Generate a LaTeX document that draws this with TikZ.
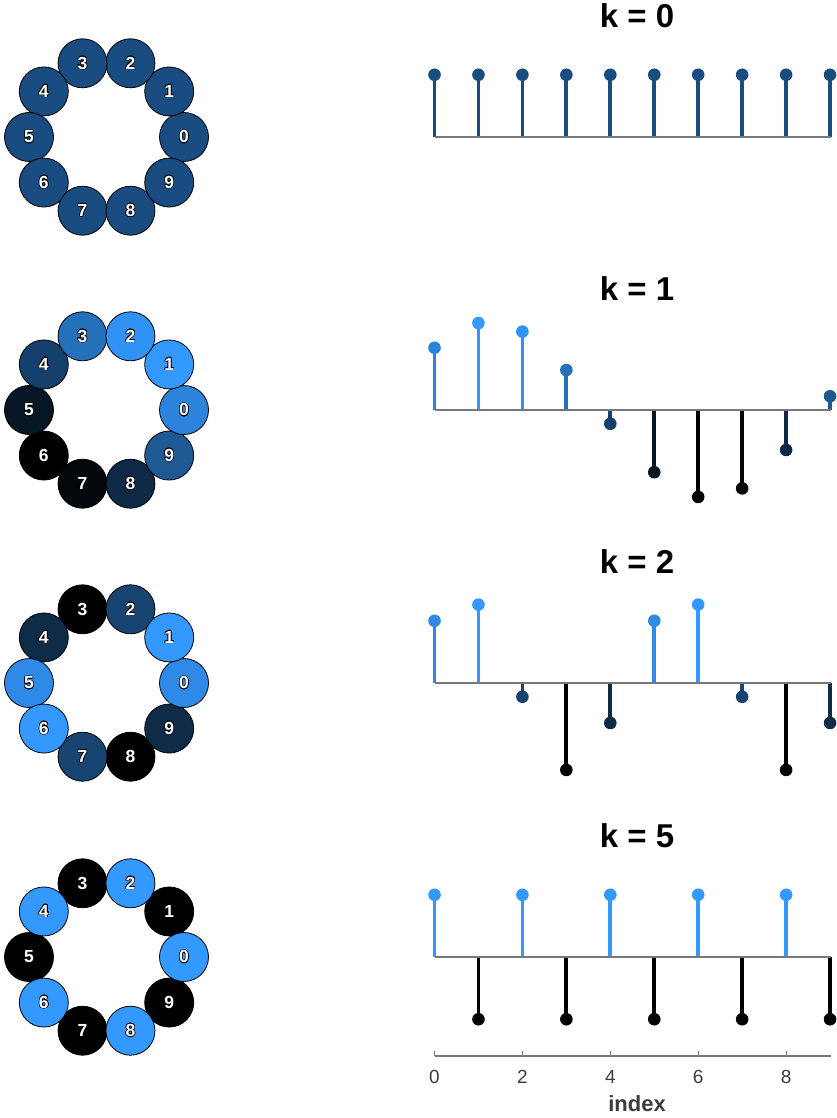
\documentclass[tikz,border=0pt]{standalone}
\usepackage{fontspec}
\setmainfont{Liberation Sans}
\usepackage{contour}
\contourlength{0.6pt}
\definecolor{hiblue}{RGB}{51,153,255}
\definecolor{axgray}{RGB}{120,120,120}
\definecolor{lblgray}{RGB}{60,60,60}

\begin{document}
\begin{tikzpicture}[x=1pt,y=-1pt]
                \tikzstyle{ball}=[circle,draw=black,line width=0.8pt,minimum size=49pt,inner sep=0pt,text=white,font=\fontsize{17.5}{17.5}\selectfont\bfseries]
                \tikzstyle{stem}=[line width=3.8pt]
                \tikzstyle{title}=[font=\fontsize{33}{36}\selectfont\bfseries]
                \tikzstyle{ticklbl}=[text=lblgray,font=\fontsize{19}{19}\selectfont]
                \useasboundingbox (0,0) rectangle (836,1118);

                % one row per k: ring on the left, stem plot on the right
                \foreach \k/\row/\vmin/\vmax in {0/137/0/1.4142, 1/410/-0.9877/0.9877, 2/683/-0.9877/0.8910, 5/957/-0.7071/0.7071}{
                    \node[title] (title\k) at (637,\row-121) {k = \k};
                    \coordinate (ring\k) at (106.5,\row);
                    \coordinate (left\k) at (434.5,\row);
                    \coordinate (right\k) at (831,\row);
                    % ring, darker balls first so lighter ones lie on top
                    \foreach \lvl in {0,...,10}{
                        \foreach \n in {0,...,9}{
                            \pgfmathsetmacro{\val}{cos(36*\k*\n-45)}
                            \pgfmathsetmacro{\pct}{100*(\val-\vmin)/(\vmax-\vmin)}
                            \pgfmathtruncatemacro{\bin}{\pct/10}
                            \ifnum\bin=\lvl
                                \colorlet{vcol}{hiblue!\pct!black}
                                \node[ball,fill=vcol] (c\k-\n) at ([shift={(-36*\n:77.5)}]ring\k) {\contour{black}{\n}};
                            \fi
                        }
                    }
                    % stems
                    \foreach \n in {0,...,9}{
                        \pgfmathsetmacro{\val}{cos(36*\k*\n-45)}
                        \pgfmathsetmacro{\pct}{100*(\val-\vmin)/(\vmax-\vmin)}
                        \colorlet{vcol}{hiblue!\pct!black}
                        \coordinate (s\k-\n) at (434.5+43.95*\n,\row);
                        \coordinate (m\k-\n) at (434.5+43.95*\n,\row-88*\val);
                        \draw[stem,vcol] (s\k-\n) -- (m\k-\n);
                        \fill[vcol] (m\k-\n) circle (6.3);
                    }
                    \draw[axgray,line width=1.2pt] (left\k) -- (right\k);
                }

                % index axis
                \coordinate (ax0) at (434.5,1056);
                \coordinate (ax1) at (831,1056);
                \draw[axgray,line width=1.2pt] (ax0) -- (ax1);
                \foreach \n in {0,2,4,6,8}{
                    \draw[axgray,line width=1pt] (434.5+43.95*\n,1056) -- ++(0,-5);
                    \node[ticklbl] (tick\n) at (434.5+43.95*\n,1077) {\n};
                }
                \node[font=\fontsize{22}{22}\selectfont\bfseries,text=lblgray] (xlabel) at (637,1104) {index};

\end{tikzpicture}
\end{document}
